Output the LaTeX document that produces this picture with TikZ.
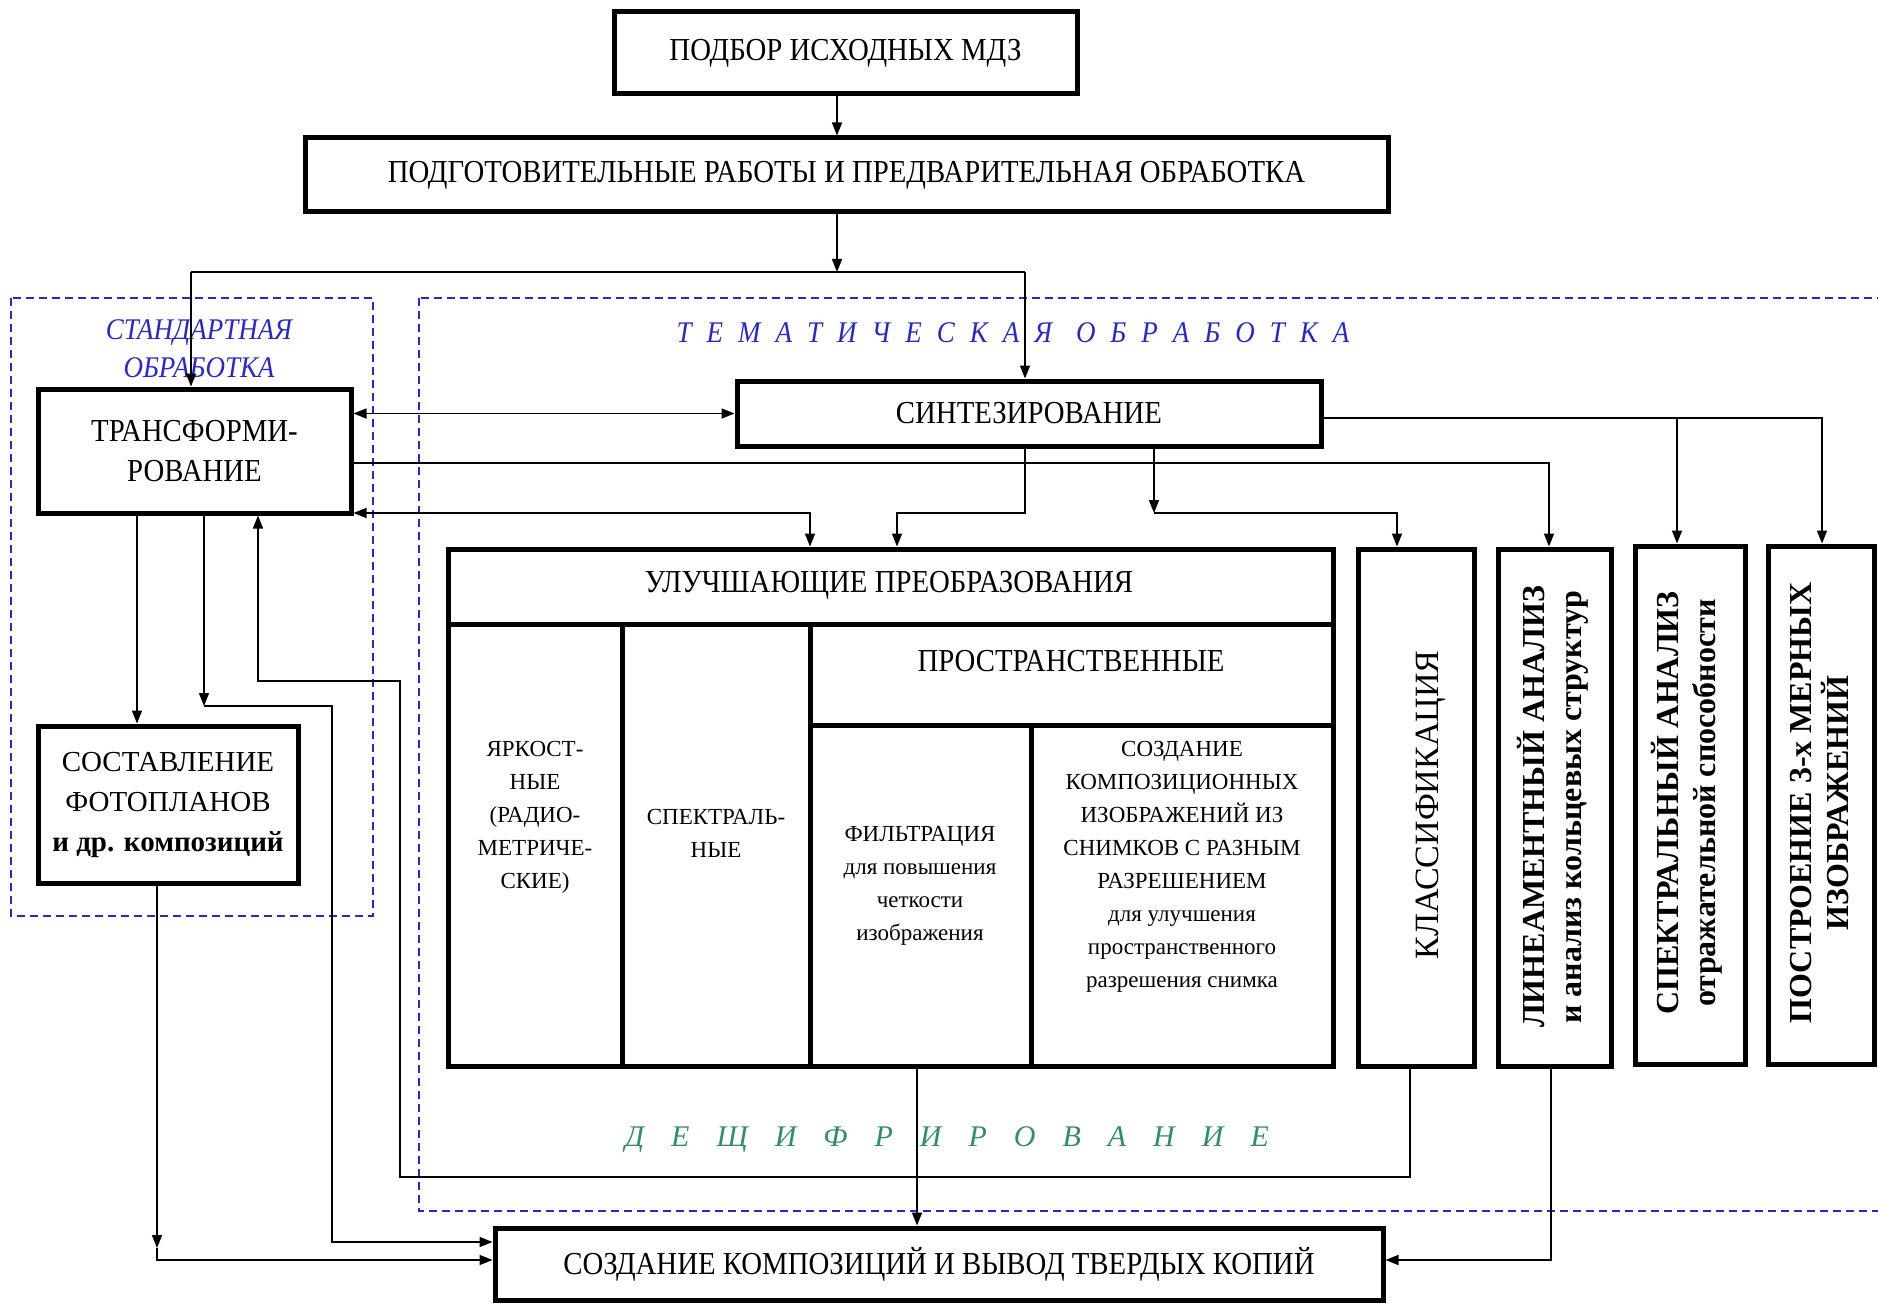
\documentclass[tikz,border=0pt]{standalone}
\usepackage{fontspec}
\setmainfont{Liberation Serif}
\newfontfamily\narrowserif[FakeStretch=0.9]{Liberation Serif}
\usetikzlibrary{arrows.meta}

\definecolor{frameblue}{RGB}{40,40,200}
\definecolor{decgreen}{RGB}{50,140,110}

\newcommand{\boxfont}{\narrowserif\fontsize{32}{40}\selectfont}
\newcommand{\plainfont}{\fontsize{29}{40}\selectfont}
\newcommand{\cellfont}{\fontsize{23}{33}\selectfont}
\newcommand{\vertfont}{\fontsize{32}{37}\selectfont\bfseries}
\newcommand{\areafont}{\narrowserif\fontsize{30}{38}\selectfont\itshape}

\begin{document}
\begin{tikzpicture}[x=1pt,y=-1pt]
        \tikzstyle{every node}=[font=\boxfont, inner sep=0pt]
        \tikzstyle{block}=[draw, line width=5pt, align=center]
        \tikzstyle{link}=[line width=1.6pt, -{Triangle[length=13pt,width=10pt]}]
        \tikzstyle{dlink}=[link, {Triangle[length=13pt,width=10pt]}-{Triangle[length=13pt,width=10pt]}]
        \tikzstyle{area}=[draw=frameblue, line width=1.6pt, dash pattern=on 8pt off 5pt]
        \useasboundingbox (0,0) rectangle (1878,1305);
        \clip (0,0) rectangle (1878,1305);

        \draw[area] (11,298) rectangle (373,916);
        \draw[area] (419,298) rectangle (1890,1211);
        \node[font=\areafont, text=frameblue, align=center] (stdlabel) at (199,349) {СТАНДАРТНАЯ\\ОБРАБОТКА};
        \node[font=\areafont, text=frameblue] (themlabel) at (1013,333)
            {\spaceskip=15pt Т Е М А Т И Ч Е С К А Я\hspace{24pt}О Б Р А Б О Т К А};
        \node[font=\fontsize{30}{36}\selectfont\itshape, text=decgreen] (decode) at (947,1140)
            {\spaceskip=27pt Д Е Щ И Ф Р И Р О В А Н И Е};

        \node[block, minimum width=463pt, minimum height=82pt] (podbor) at (845.5,53) {ПОДБОР ИСХОДНЫХ МДЗ};
        \node[block, minimum width=1083pt, minimum height=74pt] (podgot) at (846.5,175)
            {ПОДГОТОВИТЕЛЬНЫЕ РАБОТЫ И ПРЕДВАРИТЕЛЬНАЯ ОБРАБОТКА};
        \node[block, minimum width=313pt, minimum height=124pt] (trans) at (194.5,451) {ТРАНСФОРМИ-\\РОВАНИЕ};
        \node[block, minimum width=260pt, minimum height=157pt, font=\plainfont] (sostav) at (168,804.5)
            {СОСТАВЛЕНИЕ\\ФОТОПЛАНОВ\\\textbf{и др. композиций}};
        \node[block, minimum width=584pt, minimum height=65pt] (synt) at (1029,413.5) {СИНТЕЗИРОВАНИЕ};
        \node[block, minimum width=888pt, minimum height=72pt] (create) at (939,1264)
            {СОЗДАНИЕ КОМПОЗИЦИЙ И ВЫВОД ТВЕРДЫХ КОПИЙ};

        \node[block, minimum width=885pt, minimum height=517pt] (ulu) at (890.5,807.5) {};
        \draw[line width=5pt] (448,624) -- (1333,624);
        \draw[line width=5pt] (810,725) -- (1333,725);
        \draw[line width=5pt] (622,624) -- (622,1066);
        \draw[line width=5pt] (810,624) -- (810,1066);
        \draw[line width=5pt] (1031,725) -- (1031,1066);
        \node[anchor=base] (ulutitle) at (889,592) {УЛУЧШАЮЩИЕ ПРЕОБРАЗОВАНИЯ};
        \node[anchor=base] (spatial) at (1071,671) {ПРОСТРАНСТВЕННЫЕ};
        \node[font=\cellfont, align=center] (bright) at (535,817) {ЯРКОСТ-\\НЫЕ\\(РАДИО-\\МЕТРИЧЕ-\\СКИЕ)};
        \node[font=\cellfont, align=center] (spectral) at (716,833) {СПЕКТРАЛЬ-\\НЫЕ};
        \node[font=\cellfont, align=center] (filter) at (920,886)
            {ФИЛЬТРАЦИЯ\\для повышения\\четкости\\изображения};
        \node[font=\cellfont, align=center] (compos) at (1182,867)
            {СОЗДАНИЕ\\КОМПОЗИЦИОННЫХ\\ИЗОБРАЖЕНИЙ ИЗ\\СНИМКОВ С РАЗНЫМ\\РАЗРЕШЕНИЕМ\\для улучшения\\пространственного\\разрешения снимка};

        \node[block, minimum width=116pt, minimum height=517pt] (klass) at (1416,807.5) {};
        \node[block, minimum width=113pt, minimum height=517pt] (linea) at (1554.5,807.5) {};
        \node[block, minimum width=110pt, minimum height=518pt] (spectr) at (1690,805) {};
        \node[block, minimum width=106pt, minimum height=518pt] (postr) at (1821,805) {};
        \node[rotate=90, font=\fontsize{34}{40}\selectfont] (klasstext) at (1431,805) {КЛАССИФИКАЦИЯ};
        \node[rotate=90, font=\vertfont, align=center] (lineatext) at (1553,807)
            {ЛИНЕАМЕНТНЫЙ АНАЛИЗ\\и анализ кольцевых структур};
        \node[rotate=90, font=\vertfont, align=center] (spectrtext) at (1687,803)
            {СПЕКТРАЛЬНЫЙ АНАЛИЗ\\отражательной способности};
        \node[rotate=90, font=\vertfont, align=center] (postrtext) at (1820,803)
            {ПОСТРОЕНИЕ 3-х МЕРНЫХ\\ИЗОБРАЖЕНИЙ};

        \coordinate (split) at (837,272);
        \coordinate (splitL) at (191,272);
        \coordinate (splitR) at (1025,272);
        \draw[link] (podbor.south -| split) -- (podgot.north -| split);
        \draw[link] (podgot.south -| split) -- (split);
        \draw[line width=1.6pt] (splitL) -- (splitR);
        \draw[link] (splitL) -- (trans.north -| splitL);
        \draw[link] (splitR) -- (synt.north -| splitR);

        \draw[dlink] (trans.east |- synt.west) -- (synt.west);

        \coordinate (lin) at (1549,463);
        \draw[link] (trans.east |- lin) -| (linea.north -| lin);

        \coordinate (sp) at (1677,418);
        \coordinate (po) at (1822,418);
        \draw[link] (synt.east |- po) -| (postr.north -| po);
        \draw[link] (sp) -- (spectr.north -| sp);

        \coordinate (ul1) at (810,513);
        \coordinate (ul2) at (897,513);
        \draw[dlink] (trans.east |- ul1) -| (ulu.north -| ul1);
        \draw[link] (synt.south -| splitR) |- (ul2) -- (ulu.north -| ul2);

        \coordinate (kl) at (1154,513);
        \coordinate (kl2) at (1397,513);
        \draw[link] (synt.south -| kl) -- (kl);
        \draw[link] (kl) -- (kl2) -- (klass.north -| kl2);

        \coordinate (t1) at (137,600);
        \draw[link] (trans.south -| t1) -- (sostav.north -| t1);
        \coordinate (t2) at (204,706);
        \coordinate (t2r) at (332,706);
        \coordinate (cr1) at (332,1242);
        \draw[link] (trans.south -| t2) -- (t2);
        \draw[link] (t2) -- (t2r) -- (cr1) -- (create.west |- cr1);

        \coordinate (back1) at (1410,1177);
        \coordinate (back2) at (400,1177);
        \coordinate (back3) at (400,681);
        \coordinate (back4) at (258,681);
        \draw[link] (klass.south -| back1) -- (back1) -- (back2) -- (back3) -- (back4) -- (trans.south -| back4);

        \coordinate (s1) at (157,1248);
        \coordinate (s2) at (157,1260);
        \draw[link] (sostav.south -| s1) -- (s1);
        \draw[link] (s1) -- (s2) -- (create.west |- s2);

        \coordinate (u1) at (917,1100);
        \draw[link] (ulu.south -| u1) -- (create.north -| u1);
        \coordinate (l1) at (1551,1260);
        \draw[link] (linea.south -| l1) -- (l1) -- (create.east |- l1);

    \end{tikzpicture}
\end{document}
